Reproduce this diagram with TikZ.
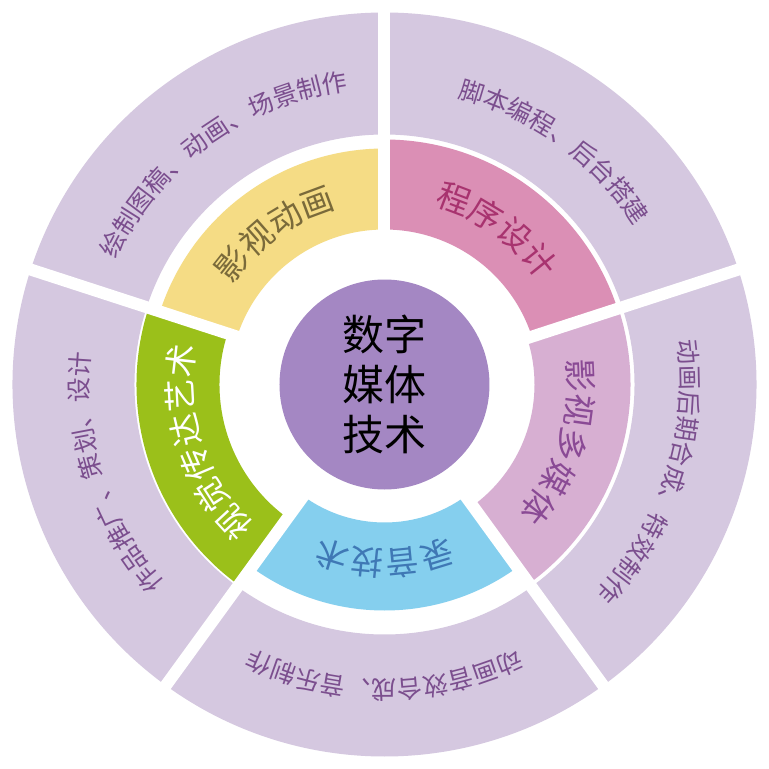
\documentclass[tikz,border=0pt]{standalone}
\usepackage{fontspec}
\setmainfont{Noto Sans CJK SC}
\usetikzlibrary{decorations.text}
\definecolor{outerColor}{HTML}{D5C8E0}
\definecolor{outerText}{HTML}{7B4E8E}
\definecolor{yellowSeg}{HTML}{F5DC85}
\definecolor{pinkSeg}{HTML}{DB8FB5}
\definecolor{mediaSeg}{HTML}{D7AFD2}
\definecolor{blueSeg}{HTML}{85CFEE}
\definecolor{greenSeg}{HTML}{9BC01A}
\definecolor{centerColor}{HTML}{A487C3}
\definecolor{yellowText}{HTML}{7A6A3A}
\definecolor{pinkText}{HTML}{A8336F}
\definecolor{mediaText}{HTML}{8A4A95}
\definecolor{blueText}{HTML}{3F78B5}
\newcommand{\ringseg}[5]{%
  \path[fill=#5] (#1:#3) arc[start angle=#1,end angle=#2,radius=#3] --
    (#2:#4) arc[start angle=#2,end angle=#1,radius=#4] -- cycle;}
\newcommand{\arctext}[6]{%
  \path[decorate,decoration={text along path,text align=center,text color=#5,
    text={|\fontsize{#6}{#6}\selectfont|#4}}]
    (#1:#3) arc[start angle=#1,end angle=#2,radius=#3];}
\begin{document}
\begin{tikzpicture}[x=1pt,y=1pt]
\path[use as bounding box,fill=white] (-384.5,-384.5) rectangle (384.5,384.5);
% outer ring
\foreach \a in {-126,-54,18,90,162}
  \ringseg{\a}{\a+72}{250}{372}{outerColor};
% inner ring
\ringseg{90}{162}{155}{236}{yellowSeg}
\ringseg{18}{90}{155}{245}{pinkSeg}
\ringseg{-54}{18}{150}{246}{mediaSeg}
\ringseg{-126}{-54}{138}{226}{blueSeg}
\ringseg{162}{234}{165}{248}{greenSeg}
% gaps
\foreach \a in {-126,-54,18,90,162}
  \draw[white,line width=12pt] (\a:100) -- (\a:390);
% centre
\node[circle,fill=centerColor,minimum size=210pt,inner sep=0pt,align=center,
  font=\fontsize{42}{50}\selectfont] (core) at (0,0) {数字\\媒体\\技术};
% outer labels
\arctext{162}{90}{296}{绘制图稿、动画、场景制作}{outerText}{25}
\arctext{90}{18}{296}{脚本编程、后台搭建}{outerText}{25}
\arctext{18}{-54}{296}{动画后期合成、特效制作}{outerText}{25}
\arctext{-54}{-126}{296}{动画音效合成、音乐制作}{outerText}{25}
\arctext{234}{162}{296}{作品推广、策划、设计}{outerText}{25}
% inner labels
\arctext{162}{90}{182}{影视动画}{yellowText}{33}
\arctext{90}{18}{186}{程序设计}{pinkText}{33}
\arctext{18}{-54}{184}{影视多媒体}{mediaText}{33}
\arctext{-54}{-126}{166}{录音技术}{blueText}{33}
\arctext{234}{162}{192}{视觉传达艺术}{white}{33}
\end{tikzpicture}
\end{document}
